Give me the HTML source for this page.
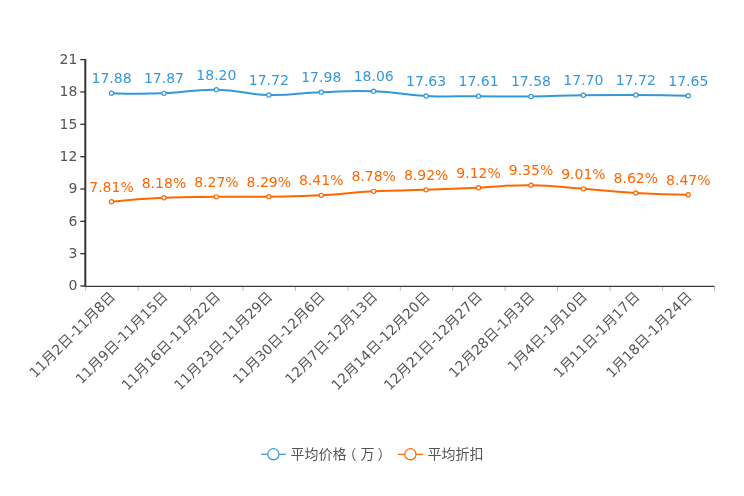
<!DOCTYPE html>
<html lang="zh-CN"><head><meta charset="utf-8"><title>chart</title>
<style>
html,body{margin:0;padding:0;background:#fff;}
body{width:744px;height:496px;overflow:hidden;}
svg{display:block;will-change:transform;font-family:"DejaVu Sans", "Noto Sans CJK SC", sans-serif;}
.yl{font-size:14px;fill:#555;text-anchor:end;}
.xl{font-size:14px;fill:#555;text-anchor:end;}
.vb{font-size:14px;fill:#3398DB;text-anchor:middle;}
.vo{font-size:14px;fill:#ff6600;text-anchor:middle;}
.lg{font-size:14px;fill:#555;}
</style></head><body>
<svg width="744" height="496" viewBox="0 0 744 496">
<rect width="744" height="496" fill="#fff"/>

<line x1="85.70" y1="286.5" x2="85.70" y2="291.0" stroke="#bbb" stroke-width="1"/>
<line x1="138.13" y1="286.5" x2="138.13" y2="291.0" stroke="#bbb" stroke-width="1"/>
<line x1="190.57" y1="286.5" x2="190.57" y2="291.0" stroke="#bbb" stroke-width="1"/>
<line x1="243.00" y1="286.5" x2="243.00" y2="291.0" stroke="#bbb" stroke-width="1"/>
<line x1="295.43" y1="286.5" x2="295.43" y2="291.0" stroke="#bbb" stroke-width="1"/>
<line x1="347.87" y1="286.5" x2="347.87" y2="291.0" stroke="#bbb" stroke-width="1"/>
<line x1="400.30" y1="286.5" x2="400.30" y2="291.0" stroke="#bbb" stroke-width="1"/>
<line x1="452.73" y1="286.5" x2="452.73" y2="291.0" stroke="#bbb" stroke-width="1"/>
<line x1="505.17" y1="286.5" x2="505.17" y2="291.0" stroke="#bbb" stroke-width="1"/>
<line x1="557.60" y1="286.5" x2="557.60" y2="291.0" stroke="#bbb" stroke-width="1"/>
<line x1="610.03" y1="286.5" x2="610.03" y2="291.0" stroke="#bbb" stroke-width="1"/>
<line x1="662.47" y1="286.5" x2="662.47" y2="291.0" stroke="#bbb" stroke-width="1"/>
<line x1="714.50" y1="286.5" x2="714.50" y2="291.0" stroke="#bbb" stroke-width="1"/>
<line x1="80.3" y1="286.00" x2="85.3" y2="286.00" stroke="#333" stroke-width="1.3"/>
<text class="yl" x="77.30" y="290.40">0</text>
<line x1="80.3" y1="253.66" x2="85.3" y2="253.66" stroke="#333" stroke-width="1.3"/>
<text class="yl" x="77.30" y="258.06">3</text>
<line x1="80.3" y1="221.31" x2="85.3" y2="221.31" stroke="#333" stroke-width="1.3"/>
<text class="yl" x="77.30" y="225.71">6</text>
<line x1="80.3" y1="188.97" x2="85.3" y2="188.97" stroke="#333" stroke-width="1.3"/>
<text class="yl" x="77.30" y="193.37">9</text>
<line x1="80.3" y1="156.63" x2="85.3" y2="156.63" stroke="#333" stroke-width="1.3"/>
<text class="yl" x="77.30" y="161.03">12</text>
<line x1="80.3" y1="124.29" x2="85.3" y2="124.29" stroke="#333" stroke-width="1.3"/>
<text class="yl" x="77.30" y="128.69">15</text>
<line x1="80.3" y1="91.94" x2="85.3" y2="91.94" stroke="#333" stroke-width="1.3"/>
<text class="yl" x="77.30" y="96.34">18</text>
<line x1="80.3" y1="59.60" x2="85.3" y2="59.60" stroke="#333" stroke-width="1.3"/>
<text class="yl" x="77.30" y="64.00">21</text>
<line x1="85.3" y1="59.1" x2="85.3" y2="286.75" stroke="#333" stroke-width="2"/>
<line x1="85.3" y1="286.3" x2="714.5" y2="286.3" stroke="#3a3a3a" stroke-width="1.2"/>
<text class="xl" transform="translate(116.22,297.50) rotate(-45)">11月2日-11月8日</text>
<text class="xl" transform="translate(168.65,297.50) rotate(-45)">11月9日-11月15日</text>
<text class="xl" transform="translate(221.08,297.50) rotate(-45)">11月16日-11月22日</text>
<text class="xl" transform="translate(273.52,297.50) rotate(-45)">11月23日-11月29日</text>
<text class="xl" transform="translate(325.95,297.50) rotate(-45)">11月30日-12月6日</text>
<text class="xl" transform="translate(378.38,297.50) rotate(-45)">12月7日-12月13日</text>
<text class="xl" transform="translate(430.82,297.50) rotate(-45)">12月14日-12月20日</text>
<text class="xl" transform="translate(483.25,297.50) rotate(-45)">12月21日-12月27日</text>
<text class="xl" transform="translate(535.68,297.50) rotate(-45)">12月28日-1月3日</text>
<text class="xl" transform="translate(588.12,297.50) rotate(-45)">1月4日-1月10日</text>
<text class="xl" transform="translate(640.55,297.50) rotate(-45)">1月11日-1月17日</text>
<text class="xl" transform="translate(692.98,297.50) rotate(-45)">1月18日-1月24日</text>
<path d="M111.52,93.24C111.52,93.24 137.76,94.21 163.95,93.34C190.20,92.48 190.20,89.38 216.38,89.79C242.63,90.19 242.56,94.37 268.82,94.96C294.99,95.55 295.02,93.08 321.25,92.16C347.45,91.24 347.52,90.35 373.68,91.30C399.95,92.24 399.85,94.72 426.12,95.93C452.28,97.14 452.33,96.01 478.55,96.15C504.77,96.28 504.77,96.71 530.98,96.47C557.20,96.23 557.20,95.55 583.42,95.18C609.63,94.80 609.63,94.83 635.85,94.96C662.07,95.10 688.28,95.72 688.28,95.72" fill="none" stroke="#3398DB" stroke-width="2" stroke-linejoin="round"/>
<circle cx="111.52" cy="93.24" r="2.1" fill="#fff" stroke="#3398DB" stroke-width="1.2"/>
<circle cx="163.95" cy="93.34" r="2.1" fill="#fff" stroke="#3398DB" stroke-width="1.2"/>
<circle cx="216.38" cy="89.79" r="2.1" fill="#fff" stroke="#3398DB" stroke-width="1.2"/>
<circle cx="268.82" cy="94.96" r="2.1" fill="#fff" stroke="#3398DB" stroke-width="1.2"/>
<circle cx="321.25" cy="92.16" r="2.1" fill="#fff" stroke="#3398DB" stroke-width="1.2"/>
<circle cx="373.68" cy="91.30" r="2.1" fill="#fff" stroke="#3398DB" stroke-width="1.2"/>
<circle cx="426.12" cy="95.93" r="2.1" fill="#fff" stroke="#3398DB" stroke-width="1.2"/>
<circle cx="478.55" cy="96.15" r="2.1" fill="#fff" stroke="#3398DB" stroke-width="1.2"/>
<circle cx="530.98" cy="96.47" r="2.1" fill="#fff" stroke="#3398DB" stroke-width="1.2"/>
<circle cx="583.42" cy="95.18" r="2.1" fill="#fff" stroke="#3398DB" stroke-width="1.2"/>
<circle cx="635.85" cy="94.96" r="2.1" fill="#fff" stroke="#3398DB" stroke-width="1.2"/>
<circle cx="688.28" cy="95.72" r="2.1" fill="#fff" stroke="#3398DB" stroke-width="1.2"/>
<text class="vb" x="111.52" y="83.24">17.88</text>
<text class="vb" x="163.95" y="83.34">17.87</text>
<text class="vb" x="216.38" y="79.79">18.20</text>
<text class="vb" x="268.82" y="84.96">17.72</text>
<text class="vb" x="321.25" y="82.16">17.98</text>
<text class="vb" x="373.68" y="81.30">18.06</text>
<text class="vb" x="426.12" y="85.93">17.63</text>
<text class="vb" x="478.55" y="86.15">17.61</text>
<text class="vb" x="530.98" y="86.47">17.58</text>
<text class="vb" x="583.42" y="85.18">17.70</text>
<text class="vb" x="635.85" y="84.96">17.72</text>
<text class="vb" x="688.28" y="85.72">17.65</text>
<path d="M111.52,201.80C111.52,201.80 137.70,199.05 163.95,197.81C190.13,196.57 190.16,197.14 216.38,196.84C242.60,196.55 242.60,197.00 268.82,196.63C295.04,196.25 295.07,196.65 321.25,195.33C347.50,194.01 347.43,192.72 373.68,191.34C399.87,189.97 399.91,190.75 426.12,189.83C452.34,188.92 452.34,188.84 478.55,187.68C504.77,186.52 504.78,184.90 530.98,185.20C557.22,185.49 557.21,186.90 583.42,188.86C609.64,190.83 609.60,191.61 635.85,193.07C662.03,194.52 688.28,194.69 688.28,194.69" fill="none" stroke="#ff6600" stroke-width="2" stroke-linejoin="round"/>
<circle cx="111.52" cy="201.80" r="2.1" fill="#fff" stroke="#ff6600" stroke-width="1.2"/>
<circle cx="163.95" cy="197.81" r="2.1" fill="#fff" stroke="#ff6600" stroke-width="1.2"/>
<circle cx="216.38" cy="196.84" r="2.1" fill="#fff" stroke="#ff6600" stroke-width="1.2"/>
<circle cx="268.82" cy="196.63" r="2.1" fill="#fff" stroke="#ff6600" stroke-width="1.2"/>
<circle cx="321.25" cy="195.33" r="2.1" fill="#fff" stroke="#ff6600" stroke-width="1.2"/>
<circle cx="373.68" cy="191.34" r="2.1" fill="#fff" stroke="#ff6600" stroke-width="1.2"/>
<circle cx="426.12" cy="189.83" r="2.1" fill="#fff" stroke="#ff6600" stroke-width="1.2"/>
<circle cx="478.55" cy="187.68" r="2.1" fill="#fff" stroke="#ff6600" stroke-width="1.2"/>
<circle cx="530.98" cy="185.20" r="2.1" fill="#fff" stroke="#ff6600" stroke-width="1.2"/>
<circle cx="583.42" cy="188.86" r="2.1" fill="#fff" stroke="#ff6600" stroke-width="1.2"/>
<circle cx="635.85" cy="193.07" r="2.1" fill="#fff" stroke="#ff6600" stroke-width="1.2"/>
<circle cx="688.28" cy="194.69" r="2.1" fill="#fff" stroke="#ff6600" stroke-width="1.2"/>
<text class="vo" x="111.52" y="191.80">7.81%</text>
<text class="vo" x="163.95" y="187.81">8.18%</text>
<text class="vo" x="216.38" y="186.84">8.27%</text>
<text class="vo" x="268.82" y="186.63">8.29%</text>
<text class="vo" x="321.25" y="185.33">8.41%</text>
<text class="vo" x="373.68" y="181.34">8.78%</text>
<text class="vo" x="426.12" y="179.83">8.92%</text>
<text class="vo" x="478.55" y="177.68">9.12%</text>
<text class="vo" x="530.98" y="175.20">9.35%</text>
<text class="vo" x="583.42" y="178.86">9.01%</text>
<text class="vo" x="635.85" y="183.07">8.62%</text>
<text class="vo" x="688.28" y="184.69">8.47%</text>
<line x1="261" y1="454.3" x2="286" y2="454.3" stroke="#3398DB" stroke-width="1.2"/>
<circle cx="273.4" cy="454.3" r="5.6" fill="#fff" stroke="#3398DB" stroke-width="1.2"/>
<text class="lg" x="290.4" y="458.90000000000003">平均价格<tspan dx="-4">（</tspan><tspan dx="4">万</tspan><tspan dx="3.2">）</tspan></text>
<line x1="398" y1="454.3" x2="423" y2="454.3" stroke="#ff6600" stroke-width="1.2"/>
<circle cx="410.4" cy="454.3" r="5.6" fill="#fff" stroke="#ff6600" stroke-width="1.2"/>
<text class="lg" x="427.4" y="458.90000000000003">平均折扣</text>
</svg></body></html>
